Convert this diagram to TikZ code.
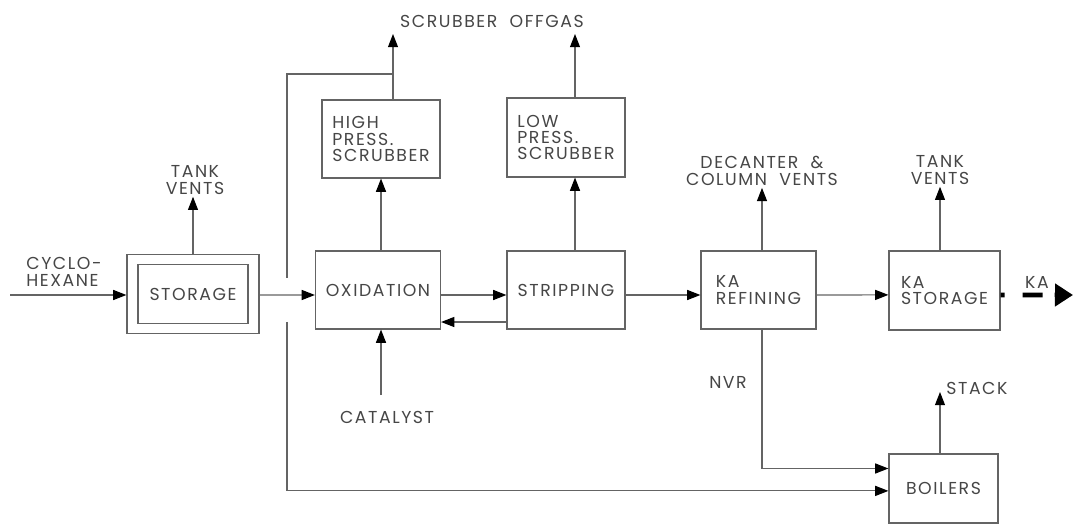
\documentclass[tikz,border=0pt]{standalone}
\usepackage{fontspec}
\setmainfont{Poppins}[LetterSpace=9]
\usepackage{tikz}
\usetikzlibrary{arrows.meta, positioning, calc}
\definecolor{lineg}{RGB}{100,100,100}
\definecolor{textg}{RGB}{70,70,70}
\tikzset{
  unit/.style={
    rectangle, draw=lineg, line width=0.8pt, inner sep=0pt,
    minimum width=29.5mm, minimum height=19.5mm,
    align=left, text=textg, font=\fontsize{12.3}{11.6}\selectfont
  },
  vent/.style={
    inner sep=1.5pt, align=center, text=textg,
    font=\fontsize{12.3}{11.8}\selectfont
  },
  flow/.style={draw=lineg, line width=0.8pt, -{Triangle[length=3.3mm,width=2.5mm,color=black]}},
  pipe/.style={draw=lineg, line width=0.8pt},
}

\begin{document}
\begin{tikzpicture}[x=0.025cm, y=-0.025cm]
  \useasboundingbox (0,0) rectangle (1074,525);

  % process units
  \node (storeout) [unit, minimum width=33mm, minimum height=19.75mm] at (193,294) {};
  \node (store)  [unit, minimum width=27.5mm, minimum height=14.75mm] at (193,294) {STORAGE};
  \node (hp)     [unit]                                  at (381,139)   {HIGH\\PRESS.\\SCRUBBER};
  \node (lp)     [unit, minimum height=19.75mm]          at (566,137.5) {LOW\\PRESS.\\SCRUBBER};
  \node (ox)     [unit, minimum width=31.25mm]           at (378,290)   {OXIDATION};
  \node (strip)  [unit]                                  at (566,290)   {STRIPPING};
  \node (ref)    [unit, minimum width=28.75mm]           at (758.5,290) {KA\\REFINING};
  \node (kast)   [unit, minimum width=27.75mm, minimum height=19.75mm] at (944.5,290.5) {KA\\STORAGE};
  \node (boil)   [unit, minimum width=27.25mm, minimum height=17.25mm] at (943.5,488.5) {BOILERS};

  % stream labels
  \node (cyc)    [vent, align=left] at (64,272)  {CYCLO-\\HEXANE};
  \node (tv1)    [vent] at (195,180)  {TANK\\VENTS};
  \node (offgas) [vent] at (492,21)   {SCRUBBER\ \ OFFGAS};
  \node (cat)    [vent] at (387,417)  {CATALYST};
  \node (dec)    [vent] at (762,171)  {DECANTER \ \&\\COLUMN \ VENTS};
  \node (tv2)    [vent] at (940,170)  {TANK\\VENTS};
  \node (ka)     [vent] at (1037,282) {KA};
  \node (nvr)    [vent] at (728,382)  {NVR};

  \coordinate (feed)  at (10,295);
  \coordinate (gas1)  at (393,34);
  \coordinate (gas2)  at (575,34);
  \coordinate (jct)   at (393,74);
  \coordinate (gapt)  at (287,278);
  \coordinate (gapb)  at (287,322);
  \coordinate (catin) at (381,395);
  \coordinate (stk)   at (940,392);
  \coordinate (kaout) at (1073,295);
  \node (stack)  [vent, right=0.1cm of stk, yshift=0.1cm] {STACK};

  % main line
  \draw [flow] (feed) -- (storeout.west |- feed);
  \draw [flow] ([yshift=-0.25mm]storeout.east) -- ([yshift=-1.25mm]ox.west);
  \draw [flow] ([yshift=-1.25mm]ox.east) -- ([yshift=-1.25mm]strip.west);
  \draw [flow] ([yshift=-8mm]strip.west) -- ([yshift=-8mm]ox.east);
  \draw [flow] ([yshift=-1.25mm]strip.east) -- ([yshift=-1.25mm]ref.west);
  \draw [flow] ([yshift=-1.25mm]ref.east) -- ([yshift=-1.1mm]kast.west);
  \draw [line width=1.2mm, draw=black, dash pattern=on 0.1cm off 0.45cm on 0.5cm off 0.3cm on 2cm,
         -{Triangle[length=4.5mm,width=5.5mm]}] ([yshift=-1.1mm]kast.east) -- (kaout);

  % vents
  \draw [flow] (storeout.north) -- (storeout.north |- tv1.south);
  \draw [flow] (ox.north -| catin) -- (hp.south -| catin);
  \draw [flow] (strip.north -| gas2) -- (lp.south -| gas2);
  \draw [flow] (hp.north -| gas1) -- (gas1);
  \draw [flow] (lp.north -| gas2) -- (gas2);
  \draw [flow] (ref.north -| dec) -- (dec);
  \draw [flow] (kast.north -| tv2) -- (tv2);
  \draw [flow] (boil.north -| stk) -- (stk);
  \draw [flow] (catin) -- (ox.south -| catin);

  % offgas and NVR to boilers
  \draw [pipe] (jct) -| (gapt);
  \draw [flow] (gapb) |- ([yshift=-0.6mm]boil.west);
  \draw [flow] (ref.south -| dec) |- ([yshift=5mm]boil.west);
\end{tikzpicture}
\end{document}
